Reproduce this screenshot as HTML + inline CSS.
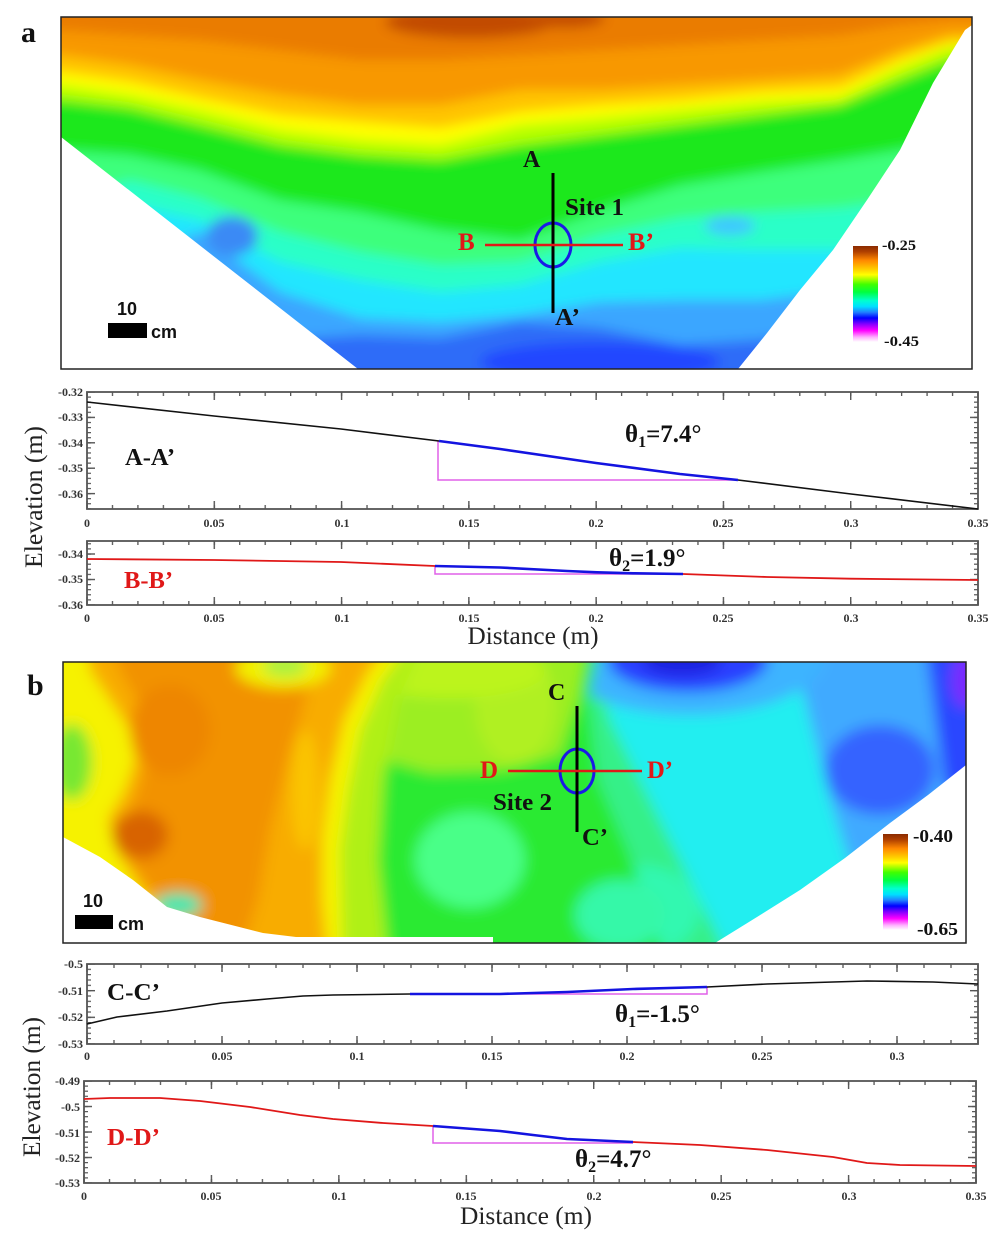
<!DOCTYPE html>
<html><head><meta charset="utf-8">
<style>
html,body{margin:0;padding:0;background:#fff;}
svg{display:block;}
.t{font-family:"Liberation Serif",serif;font-weight:bold;fill:#111;}
.tk{font-family:"Liberation Serif",serif;font-weight:bold;font-size:12px;fill:#333;}
.ax{font-family:"Liberation Serif",serif;font-size:25px;fill:#222;}
.sb{font-family:"Liberation Sans",sans-serif;font-weight:bold;font-size:18px;fill:#111;}
</style></head><body>
<svg width="1000" height="1247" viewBox="0 0 1000 1247" xmlns="http://www.w3.org/2000/svg">
<defs>
<filter id="blurA" filterUnits="userSpaceOnUse" x="30" y="0" width="980" height="400"><feGaussianBlur stdDeviation="6"/></filter>
<filter id="blurB" filterUnits="userSpaceOnUse" x="30" y="630" width="980" height="340"><feGaussianBlur stdDeviation="7"/></filter>
<clipPath id="clipA"><polygon points="61,17 972,17 972,25 965,30 933,83 900,150 867,200 833,250 800,290 767,333 738,369 358,369 61,137"/></clipPath>
<clipPath id="clipB"><polygon points="63,662 966,662 966,765 928,795 890,823 845,858 800,890 757,917 715,943 493,943 493,937 296,937 263,933 200,917 167,907 133,880 100,857 63,837"/></clipPath>
<linearGradient id="cbar" x1="0" y1="0" x2="0" y2="1">
<stop offset="0" stop-color="#8a2a00"/><stop offset="0.06" stop-color="#b04000"/><stop offset="0.15" stop-color="#ff8800"/><stop offset="0.24" stop-color="#ffcc00"/><stop offset="0.30" stop-color="#ffff00"/><stop offset="0.40" stop-color="#40ff00"/><stop offset="0.48" stop-color="#00ff40"/><stop offset="0.57" stop-color="#00ffd0"/><stop offset="0.63" stop-color="#00e0ff"/><stop offset="0.69" stop-color="#2080ff"/><stop offset="0.75" stop-color="#0000ff"/><stop offset="0.81" stop-color="#8000ff"/><stop offset="0.88" stop-color="#ff00ff"/><stop offset="0.95" stop-color="#ffb0ff"/><stop offset="1" stop-color="#ffffff"/>
</linearGradient>
<pattern id="pxAm" patternUnits="userSpaceOnUse" x="86.35" y="0" width="25.457" height="10"><rect width="1.3" height="10" fill="#555"/></pattern>
<pattern id="pxAM" patternUnits="userSpaceOnUse" x="86.3" y="0" width="127.286" height="10"><rect width="1.4" height="10" fill="#555"/></pattern>
<pattern id="pyA1m" patternUnits="userSpaceOnUse" x="0" y="391.4" width="10" height="5.08"><rect width="10" height="1.2" fill="#555"/></pattern>
<pattern id="pyA1M" patternUnits="userSpaceOnUse" x="0" y="391.3" width="10" height="25.4"><rect width="10" height="1.4" fill="#555"/></pattern>
<pattern id="pyA2m" patternUnits="userSpaceOnUse" x="0" y="553.4" width="10" height="5.1"><rect width="10" height="1.2" fill="#555"/></pattern>
<pattern id="pyA2M" patternUnits="userSpaceOnUse" x="0" y="553.3" width="10" height="25.5"><rect width="10" height="1.4" fill="#555"/></pattern>
<pattern id="pxCm" patternUnits="userSpaceOnUse" x="86.35" y="0" width="27" height="10"><rect width="1.3" height="10" fill="#555"/></pattern>
<pattern id="pxCM" patternUnits="userSpaceOnUse" x="86.3" y="0" width="135" height="10"><rect width="1.4" height="10" fill="#555"/></pattern>
<pattern id="pyCm" patternUnits="userSpaceOnUse" x="0" y="963.4" width="10" height="5.333"><rect width="10" height="1.2" fill="#555"/></pattern>
<pattern id="pyCM" patternUnits="userSpaceOnUse" x="0" y="963.3" width="10" height="26.667"><rect width="10" height="1.4" fill="#555"/></pattern>
<pattern id="pxDm" patternUnits="userSpaceOnUse" x="83.35" y="0" width="25.486" height="10"><rect width="1.3" height="10" fill="#555"/></pattern>
<pattern id="pxDM" patternUnits="userSpaceOnUse" x="83.3" y="0" width="127.43" height="10"><rect width="1.4" height="10" fill="#555"/></pattern>
<pattern id="pyDm" patternUnits="userSpaceOnUse" x="0" y="1080.4" width="10" height="5.1"><rect width="10" height="1.2" fill="#555"/></pattern>
<pattern id="pyDM" patternUnits="userSpaceOnUse" x="0" y="1080.3" width="10" height="25.5"><rect width="10" height="1.4" fill="#555"/></pattern>
</defs>

<rect width="1000" height="1247" fill="#fff"/>

<!-- ============ MAP A ============ -->
<g clip-path="url(#clipA)">
<g filter="url(#blurA)">
<rect x="40" y="0" width="960" height="390" fill="#2e6cf8"/>
<ellipse cx="600" cy="362" rx="120" ry="20" fill="#2446ff"/>
<polygon fill="#3aa6ff" points="40,0 1000,0 1000,330 950,330 900,330 840,330 760,340 680,345 600,328 520,322 440,338 360,335 280,340 200,320 130,400 61,400 40,400"/>
<polygon fill="#22e6ff" points="40,0 1000,0 1000,280 950,280 900,280 840,290 760,300 680,300 600,302 520,315 440,322 360,318 280,292 200,232 130,260 61,300 40,300"/>
<polygon fill="#2cffc8" points="40,0 1000,0 1000,240 950,240 900,240 840,250 760,250 680,248 600,262 520,285 440,292 360,280 280,262 200,220 130,205 61,250 40,250"/>
<polygon fill="#3cff7c" points="40,0 1000,0 1000,200 950,200 900,200 840,208 760,212 680,218 600,235 520,262 440,265 360,252 280,232 200,198 130,180 61,200 40,200"/>
<polygon fill="#1ee81e" points="40,0 1000,0 1000,140 950,140 900,150 840,160 760,172 680,185 600,210 520,240 440,230 360,212 280,200 200,170 130,155 61,150 40,150"/>
<polygon fill="#b4ff00" points="40,0 1000,0 1000,60 950,60 900,80 840,105 760,115 680,125 600,135 520,145 440,160 360,155 280,145 200,125 130,108 61,100 40,100"/>
<polygon fill="#ffff00" points="40,0 1000,0 1000,48 950,48 900,68 840,98 760,102 680,110 600,118 520,125 440,145 360,140 280,130 200,110 130,95 61,85 40,85"/>
<polygon fill="#ffc400" points="40,0 1000,0 1000,42 950,42 900,60 840,88 760,92 680,100 600,105 520,112 440,128 360,122 280,115 200,98 130,82 61,72 40,72"/>
<polygon fill="#f89800" points="40,0 1000,0 1000,35 950,35 900,50 840,75 760,80 680,85 600,90 520,90 440,105 360,105 280,95 200,80 130,65 61,55 40,55"/>
<polygon fill="#ea7c00" points="40,0 1000,0 1000,20 950,20 900,25 840,35 760,40 680,45 600,50 520,55 440,60 360,60 280,50 200,40 130,35 61,30 40,30"/>
<ellipse cx="470" cy="22" rx="85" ry="16" fill="#c24c00"/>
<ellipse cx="565" cy="18" rx="40" ry="10" fill="#c44e00"/>
<ellipse cx="232" cy="236" rx="26" ry="20" fill="#3a8af5"/>
<ellipse cx="730" cy="226" rx="25" ry="10" fill="#40c8ff"/>
</g>
</g>
<rect x="61" y="17" width="911" height="352" fill="none" stroke="#222" stroke-width="1.5"/>

<ellipse cx="553" cy="245" rx="18" ry="22" fill="none" stroke="#1a1ae6" stroke-width="3"/>
<line x1="553" y1="173" x2="553" y2="313" stroke="#000" stroke-width="3"/>
<line x1="485" y1="245" x2="623" y2="245" stroke="#e01818" stroke-width="2.5"/>
<text class="t" x="523" y="167" font-size="24">A</text>
<text class="t" x="565" y="215" font-size="24" textLength="59" lengthAdjust="spacingAndGlyphs">Site 1</text>
<text class="t" x="458" y="250" font-size="25" style="fill:#e01818">B</text>
<text class="t" x="628" y="250" font-size="25" style="fill:#e01818" textLength="26" lengthAdjust="spacingAndGlyphs">B’</text>
<text class="t" x="555" y="325" font-size="24" textLength="25" lengthAdjust="spacingAndGlyphs">A’</text>

<rect x="853" y="246" width="25" height="96" fill="url(#cbar)"/>
<text class="t" x="882" y="250" font-size="15" textLength="34" lengthAdjust="spacingAndGlyphs">-0.25</text>
<text class="t" x="884" y="346" font-size="15" textLength="35" lengthAdjust="spacingAndGlyphs">-0.45</text>

<text class="sb" x="117" y="315">10</text>
<rect x="108" y="323" width="39" height="15" fill="#000"/>
<text class="sb" x="151" y="338">cm</text>

<text class="t" x="21" y="42" font-size="30">a</text>

<!-- ============ PROFILE A-A' ============ -->
<rect x="87" y="392" width="891" height="117" fill="none" stroke="#555" stroke-width="1.8"/>
<rect x="86" y="392" width="894" height="4" fill="url(#pxAm)"/>
<rect x="86" y="392" width="894" height="8" fill="url(#pxAM)"/>
<rect x="86" y="505" width="894" height="4" fill="url(#pxAm)"/>
<rect x="86" y="501" width="894" height="8" fill="url(#pxAM)"/>
<rect x="87" y="392" width="4" height="117" fill="url(#pyA1m)"/>
<rect x="87" y="392" width="8" height="117" fill="url(#pyA1M)"/>
<rect x="974" y="392" width="4" height="117" fill="url(#pyA1m)"/>
<rect x="970" y="392" width="8" height="117" fill="url(#pyA1M)"/>
<g class="tk" text-anchor="end">
<text x="83" y="396">-0.32</text><text x="83" y="421">-0.33</text><text x="83" y="447">-0.34</text><text x="83" y="472">-0.35</text><text x="83" y="498">-0.36</text>
</g>
<g class="tk" text-anchor="middle">
<text x="87" y="527">0</text><text x="214" y="527">0.05</text><text x="342" y="527">0.1</text><text x="469" y="527">0.15</text><text x="596" y="527">0.2</text><text x="723" y="527">0.25</text><text x="851" y="527">0.3</text><text x="978" y="527">0.35</text>
</g>
<path d="M438,441 V480 H738" fill="none" stroke="#e060e8" stroke-width="1.5"/>
<polyline points="87,402 214,416 341,429 439,441" fill="none" stroke="#111" stroke-width="1.6"/>
<polyline points="439,441 500,449 596,463 680,474 738,480" fill="none" stroke="#1414e0" stroke-width="2.6" stroke-linejoin="round"/>
<polyline points="738,480 851,494 978,509" fill="none" stroke="#111" stroke-width="1.6"/>
<text class="t" x="125" y="465" font-size="24" textLength="50" lengthAdjust="spacingAndGlyphs">A-A’</text>
<text class="t" x="625" y="442" font-size="25">θ<tspan font-size="16" dy="5">1</tspan><tspan dy="-5">=7.4°</tspan></text>

<!-- ============ PROFILE B-B' ============ -->
<rect x="87" y="541" width="891" height="64" fill="none" stroke="#555" stroke-width="1.8"/>
<rect x="86" y="541" width="894" height="4" fill="url(#pxAm)"/>
<rect x="86" y="541" width="894" height="8" fill="url(#pxAM)"/>
<rect x="86" y="601" width="894" height="4" fill="url(#pxAm)"/>
<rect x="86" y="597" width="894" height="8" fill="url(#pxAM)"/>
<rect x="87" y="541" width="4" height="64" fill="url(#pyA2m)"/>
<rect x="87" y="541" width="8" height="64" fill="url(#pyA2M)"/>
<rect x="974" y="541" width="4" height="64" fill="url(#pyA2m)"/>
<rect x="970" y="541" width="8" height="64" fill="url(#pyA2M)"/>
<g class="tk" text-anchor="end">
<text x="83" y="558">-0.34</text><text x="83" y="583">-0.35</text><text x="83" y="609">-0.36</text>
</g>
<g class="tk" text-anchor="middle">
<text x="87" y="622">0</text><text x="214" y="622">0.05</text><text x="342" y="622">0.1</text><text x="469" y="622">0.15</text><text x="596" y="622">0.2</text><text x="723" y="622">0.25</text><text x="851" y="622">0.3</text><text x="978" y="622">0.35</text>
</g>
<path d="M435,566 V574 H683" fill="none" stroke="#e060e8" stroke-width="1.5"/>
<polyline points="87,559 214,560 341,562 435,566" fill="none" stroke="#e01818" stroke-width="1.8"/>
<polyline points="435,566 500,567.5 567,571 597,572.3 633,573.3 683,574" fill="none" stroke="#1414e0" stroke-width="2.6" stroke-linejoin="round"/>
<polyline points="683,574 767,577 850,578.7 978,580" fill="none" stroke="#e01818" stroke-width="1.8"/>
<text class="t" x="124" y="588" font-size="24" style="fill:#e01818" textLength="49" lengthAdjust="spacingAndGlyphs">B-B’</text>
<text class="t" x="609" y="566" font-size="25">θ<tspan font-size="16" dy="5">2</tspan><tspan dy="-5">=1.9°</tspan></text>

<text class="ax" transform="translate(42,497) rotate(-90)" text-anchor="middle" textLength="142" lengthAdjust="spacingAndGlyphs">Elevation (m)</text>
<text class="ax" x="533" y="644" text-anchor="middle" textLength="131" lengthAdjust="spacingAndGlyphs">Distance (m)</text>

<!-- ============ MAP B ============ -->
<g clip-path="url(#clipB)">
<g filter="url(#blurB)">
<rect x="40" y="640" width="960" height="320" fill="#34f088"/>
<polygon fill="#22eef0" points="590,640 1000,640 1000,960 730,960 690,880 650,800 610,720"/>
<ellipse cx="640" cy="910" rx="60" ry="45" fill="#30f8b0"/>
<polygon fill="#40aaff" points="790,640 1000,640 1000,960 890,960 855,880 830,800 810,720"/>
<ellipse cx="690" cy="655" rx="135" ry="60" fill="#3cb4ff"/>
<ellipse cx="688" cy="660" rx="80" ry="32" fill="#2a40ff"/>
<ellipse cx="682" cy="660" rx="40" ry="16" fill="#1a22e0"/>
<ellipse cx="880" cy="770" rx="55" ry="45" fill="#3464ff"/>
<polygon fill="#2a46ff" points="925,640 1000,640 1000,790 945,790"/>
<ellipse cx="965" cy="680" rx="14" ry="28" fill="#7a2aff"/>
<polygon fill="#2aea30" points="340,640 600,640 588,700 598,780 628,850 665,960 340,960"/>
<ellipse cx="470" cy="860" rx="55" ry="48" fill="#48ff88"/>
<ellipse cx="620" cy="915" rx="45" ry="35" fill="#34f8a8"/>
<polygon fill="#9cee22" points="370,640 588,640 578,700 560,755 500,770 430,772 385,760"/>
<ellipse cx="515" cy="705" rx="40" ry="60" fill="#b0f020"/>
<ellipse cx="450" cy="672" rx="95" ry="26" fill="#bcf41c"/>
<polygon fill="#b0f018" points="340,640 425,640 398,700 383,780 378,860 388,960 340,960"/>
<polygon fill="#f6f200" points="40,640 412,640 382,680 360,730 348,790 340,850 342,960 40,960"/>
<polygon fill="#f8ac00" points="85,640 392,640 368,672 344,720 330,780 322,840 322,900 328,960 205,960 170,930 140,890 118,855 108,820 125,790 135,760 130,730 110,700 90,670"/>
<polygon fill="#f29200" points="110,640 320,640 305,700 288,760 270,830 258,900 238,960 195,960 162,905 132,862 125,825 140,785 150,745 140,705 120,670"/>
<ellipse cx="305" cy="790" rx="14" ry="60" fill="#fac400"/>
<ellipse cx="170" cy="730" rx="40" ry="45" fill="#ee8600"/>
<ellipse cx="140" cy="835" rx="28" ry="24" fill="#d86400"/>
<ellipse cx="283" cy="668" rx="48" ry="20" fill="#f2f000"/>
<ellipse cx="285" cy="666" rx="22" ry="11" fill="#a8f040"/>
<ellipse cx="72" cy="762" rx="20" ry="38" fill="#78e830"/>
<ellipse cx="178" cy="905" rx="24" ry="12" fill="#40e8b0"/>
</g>
</g>
<rect x="63" y="662" width="903" height="281" fill="none" stroke="#222" stroke-width="1.5"/>

<ellipse cx="577" cy="771" rx="17" ry="22" fill="none" stroke="#1a1ae6" stroke-width="3"/>
<line x1="577" y1="706" x2="577" y2="832" stroke="#000" stroke-width="3"/>
<line x1="508" y1="771" x2="642" y2="771" stroke="#e01818" stroke-width="2.5"/>
<text class="t" x="548" y="700" font-size="24">C</text>
<text class="t" x="480" y="778" font-size="25" style="fill:#e01818">D</text>
<text class="t" x="647" y="778" font-size="25" style="fill:#e01818" textLength="26" lengthAdjust="spacingAndGlyphs">D’</text>
<text class="t" x="493" y="810" font-size="24" textLength="59" lengthAdjust="spacingAndGlyphs">Site 2</text>
<text class="t" x="582" y="845" font-size="24" textLength="26" lengthAdjust="spacingAndGlyphs">C’</text>

<rect x="883" y="834" width="25" height="96" fill="url(#cbar)"/>
<text class="t" x="913" y="842" font-size="18" textLength="40" lengthAdjust="spacingAndGlyphs">-0.40</text>
<text class="t" x="917" y="935" font-size="18" textLength="41" lengthAdjust="spacingAndGlyphs">-0.65</text>

<text class="sb" x="83" y="907">10</text>
<rect x="75" y="915" width="38" height="14" fill="#000"/>
<text class="sb" x="118" y="930">cm</text>

<text class="t" x="27" y="695" font-size="30">b</text>

<!-- ============ PROFILE C-C' ============ -->
<rect x="87" y="964" width="891" height="80" fill="none" stroke="#555" stroke-width="1.8"/>
<rect x="86" y="964" width="894" height="4" fill="url(#pxCm)"/>
<rect x="86" y="964" width="894" height="8" fill="url(#pxCM)"/>
<rect x="86" y="1040" width="894" height="4" fill="url(#pxCm)"/>
<rect x="86" y="1036" width="894" height="8" fill="url(#pxCM)"/>
<rect x="87" y="964" width="4" height="80" fill="url(#pyCm)"/>
<rect x="87" y="964" width="8" height="80" fill="url(#pyCM)"/>
<rect x="974" y="964" width="4" height="80" fill="url(#pyCm)"/>
<rect x="970" y="964" width="8" height="80" fill="url(#pyCM)"/>
<g class="tk" text-anchor="end">
<text x="83" y="968">-0.5</text><text x="83" y="995">-0.51</text><text x="83" y="1021">-0.52</text><text x="83" y="1048">-0.53</text>
</g>
<g class="tk" text-anchor="middle">
<text x="87" y="1060">0</text><text x="222" y="1060">0.05</text><text x="357" y="1060">0.1</text><text x="492" y="1060">0.15</text><text x="627" y="1060">0.2</text><text x="762" y="1060">0.25</text><text x="897" y="1060">0.3</text>
</g>
<path d="M465,994 H707 V987" fill="none" stroke="#e060e8" stroke-width="1.5"/>
<polyline points="87,1024 117,1017 167,1011 222,1003 267,999 303,996 333,995 410,994" fill="none" stroke="#111" stroke-width="1.6" stroke-linejoin="round"/>
<polyline points="410,994 467,994 500,994 567,992 633,989 707,987" fill="none" stroke="#1414e0" stroke-width="2.6" stroke-linejoin="round"/>
<polyline points="707,987 767,984 833,982 867,981 933,982 978,984" fill="none" stroke="#111" stroke-width="1.6" stroke-linejoin="round"/>
<text class="t" x="107" y="1000" font-size="24" textLength="53" lengthAdjust="spacingAndGlyphs">C-C’</text>
<text class="t" x="615" y="1022" font-size="25">θ<tspan font-size="16" dy="5">1</tspan><tspan dy="-5">=-1.5°</tspan></text>

<!-- ============ PROFILE D-D' ============ -->
<rect x="84" y="1081" width="892" height="102" fill="none" stroke="#555" stroke-width="1.8"/>
<rect x="83" y="1081" width="895" height="4" fill="url(#pxDm)"/>
<rect x="83" y="1081" width="895" height="8" fill="url(#pxDM)"/>
<rect x="83" y="1179" width="895" height="4" fill="url(#pxDm)"/>
<rect x="83" y="1175" width="895" height="8" fill="url(#pxDM)"/>
<rect x="84" y="1081" width="4" height="102" fill="url(#pyDm)"/>
<rect x="84" y="1081" width="8" height="102" fill="url(#pyDM)"/>
<rect x="972" y="1081" width="4" height="102" fill="url(#pyDm)"/>
<rect x="968" y="1081" width="8" height="102" fill="url(#pyDM)"/>
<g class="tk" text-anchor="end">
<text x="80" y="1085">-0.49</text><text x="80" y="1111">-0.5</text><text x="80" y="1137">-0.51</text><text x="80" y="1162">-0.52</text><text x="80" y="1187">-0.53</text>
</g>
<g class="tk" text-anchor="middle">
<text x="84" y="1200">0</text><text x="211" y="1200">0.05</text><text x="339" y="1200">0.1</text><text x="466" y="1200">0.15</text><text x="594" y="1200">0.2</text><text x="721" y="1200">0.25</text><text x="849" y="1200">0.3</text><text x="976" y="1200">0.35</text>
</g>
<path d="M433,1126 V1143 H633" fill="none" stroke="#e060e8" stroke-width="1.5"/>
<polyline points="84,1099 110,1098 160,1098 200,1101 250,1107 300,1115 333,1119 383,1123 433,1126" fill="none" stroke="#e01818" stroke-width="1.8" stroke-linejoin="round"/>
<polyline points="433,1126 500,1131 533,1135 567,1139 633,1142" fill="none" stroke="#1414e0" stroke-width="2.6" stroke-linejoin="round"/>
<polyline points="633,1142 700,1145 767,1150 833,1157 867,1163 900,1165 976,1166" fill="none" stroke="#e01818" stroke-width="1.8" stroke-linejoin="round"/>
<text class="t" x="107" y="1145" font-size="24" style="fill:#e01818" textLength="53" lengthAdjust="spacingAndGlyphs">D-D’</text>
<text class="t" x="575" y="1167" font-size="25">θ<tspan font-size="16" dy="5">2</tspan><tspan dy="-5">=4.7°</tspan></text>

<text class="ax" transform="translate(40,1087) rotate(-90)" text-anchor="middle" textLength="140" lengthAdjust="spacingAndGlyphs">Elevation (m)</text>
<text class="ax" x="526" y="1224" text-anchor="middle" textLength="132" lengthAdjust="spacingAndGlyphs">Distance (m)</text>
</svg>
</body></html>
